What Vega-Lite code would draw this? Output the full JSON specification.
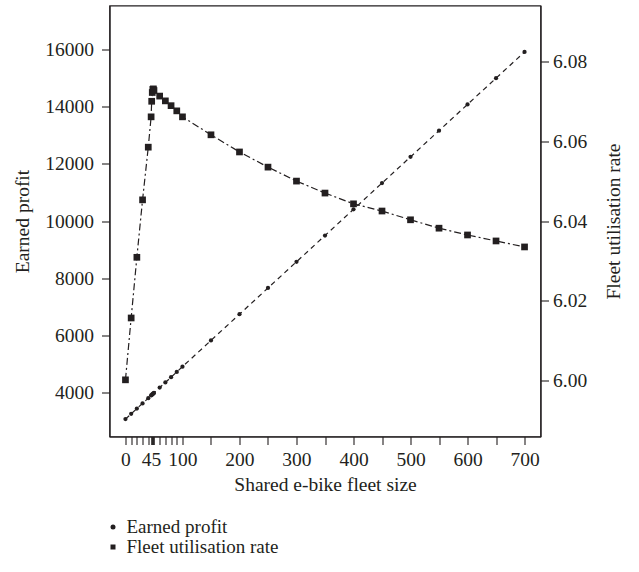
{
  "$schema": "https://vega.github.io/schema/vega-lite/v6.json",
  "width": 431,
  "height": 431,
  "autosize": {"type": "none"},
  "padding": {"left": 109.5, "top": 5.5, "right": 98.5, "bottom": 135.5},
  "background": "white",
  "config": {
    "font": "Liberation Serif",
    "view": {"stroke": "#231f20", "strokeWidth": 1.2},
    "axis": {
      "labelFont": "Liberation Serif",
      "titleFont": "Liberation Serif",
      "labelFontSize": 19.5,
      "titleFontSize": 19.5,
      "titleFontWeight": "normal",
      "labelColor": "#231f20",
      "titleColor": "#231f20",
      "domainColor": "#231f20",
      "tickColor": "#231f20",
      "domainWidth": 1.2,
      "tickWidth": 1.1,
      "tickSize": 8,
      "labelPadding": 4,
      "grid": false
    },
    "legend": {
      "labelFont": "Liberation Serif",
      "labelFontSize": 19,
      "labelColor": "#231f20",
      "symbolFillColor": "#231f20",
      "symbolStrokeColor": "#231f20",
      "symbolStrokeWidth": 0,
      "symbolSize": 25,
      "labelOffset": 4,
      "rowPadding": 0,
      "padding": 0
    }
  },
  "datasets": {
    "profit": [
      {"size": 0, "profit": 3050},
      {"size": 10, "profit": 3235},
      {"size": 20, "profit": 3420},
      {"size": 30, "profit": 3600},
      {"size": 40, "profit": 3785},
      {"size": 45, "profit": 3880},
      {"size": 46, "profit": 3895},
      {"size": 47, "profit": 3915},
      {"size": 48, "profit": 3935},
      {"size": 49, "profit": 3950},
      {"size": 50, "profit": 3970},
      {"size": 60, "profit": 4155},
      {"size": 70, "profit": 4335},
      {"size": 80, "profit": 4520},
      {"size": 90, "profit": 4705},
      {"size": 100, "profit": 4890},
      {"size": 150, "profit": 5810},
      {"size": 200, "profit": 6730},
      {"size": 250, "profit": 7650},
      {"size": 300, "profit": 8570},
      {"size": 350, "profit": 9490},
      {"size": 400, "profit": 10410},
      {"size": 450, "profit": 11330},
      {"size": 500, "profit": 12250},
      {"size": 550, "profit": 13170},
      {"size": 600, "profit": 14090},
      {"size": 650, "profit": 15010},
      {"size": 700, "profit": 15930}
    ],
    "util": [
      {"size": 0, "rate": 6.0002},
      {"size": 10, "rate": 6.0157},
      {"size": 20, "rate": 6.0309},
      {"size": 30, "rate": 6.0453},
      {"size": 40, "rate": 6.0585},
      {"size": 45, "rate": 6.0661},
      {"size": 46, "rate": 6.0700},
      {"size": 47, "rate": 6.0722},
      {"size": 48, "rate": 6.0730},
      {"size": 49, "rate": 6.0731},
      {"size": 50, "rate": 6.0727},
      {"size": 60, "rate": 6.0713},
      {"size": 70, "rate": 6.0701},
      {"size": 80, "rate": 6.0689},
      {"size": 90, "rate": 6.0676},
      {"size": 100, "rate": 6.0661},
      {"size": 150, "rate": 6.0616},
      {"size": 200, "rate": 6.0573},
      {"size": 250, "rate": 6.0535},
      {"size": 300, "rate": 6.0500},
      {"size": 350, "rate": 6.0470},
      {"size": 400, "rate": 6.0443},
      {"size": 450, "rate": 6.0425},
      {"size": 500, "rate": 6.0403},
      {"size": 550, "rate": 6.0382},
      {"size": 600, "rate": 6.0365},
      {"size": 650, "rate": 6.0350},
      {"size": 700, "rate": 6.0335}
    ]
  },
  "encoding": {
    "x": {
      "field": "size",
      "type": "quantitative",
      "scale": {"domain": [-28, 728], "nice": false, "zero": false},
      "axis": {
        "title": "Shared e-bike fleet size",
        "values": [0, 10, 20, 30, 40, 45, 46, 47, 48, 49, 50, 60, 70, 80, 90, 100, 150, 200, 250, 300, 350, 400, 450, 500, 550, 600, 650, 700],
        "format": "d",
        "labelExpr": "indexof([0,45,100,200,300,400,500,600,700], datum.value) >= 0 ? datum.label : ''",
        "labelPadding": 6,
        "titlePadding": 6,
        "labelOverlap": false,
        "labelFlush": false
      }
    }
  },
  "layer": [
    {
      "data": {"name": "profit"},
      "encoding": {
        "y": {
          "field": "profit",
          "type": "quantitative",
          "scale": {"domain": [2440, 17560], "nice": false, "zero": false},
          "axis": {
            "title": "Earned profit",
            "values": [4000, 6000, 8000, 10000, 12000, 14000, 16000],
            "format": "d",
            "labelPadding": 8,
            "titlePadding": 12
          }
        }
      },
      "layer": [
        {
          "mark": {"type": "line", "stroke": "#231f20", "strokeWidth": 1.2, "strokeDash": [5, 4]}
        },
        {
          "mark": {"type": "point", "filled": true, "size": 18, "color": "#231f20", "opacity": 1},
          "encoding": {
            "shape": {
              "datum": "Earned profit",
              "type": "nominal",
              "scale": {"domain": ["Earned profit", "Fleet utilisation rate"], "range": ["circle", "square"]},
              "legend": {"title": null, "orient": "none", "legendX": -6, "legendY": 512, "direction": "vertical"}
            }
          }
        }
      ]
    },
    {
      "data": {"name": "util"},
      "encoding": {
        "y": {
          "field": "rate",
          "type": "quantitative",
          "scale": {"domain": [5.986, 6.094], "nice": false, "zero": false},
          "axis": {
            "orient": "right",
            "title": "Fleet utilisation rate",
            "values": [6.00, 6.02, 6.04, 6.06, 6.08],
            "format": ".2f",
            "titleAngle": 270,
            "titleBaseline": "top",
            "titlePadding": 18
          }
        }
      },
      "layer": [
        {
          "mark": {"type": "line", "stroke": "#231f20", "strokeWidth": 1.2, "strokeDash": [7, 3, 2, 3]}
        },
        {
          "mark": {"type": "point", "filled": true, "size": 45, "color": "#231f20", "opacity": 1},
          "encoding": {
            "shape": {"datum": "Fleet utilisation rate", "type": "nominal"}
          }
        }
      ]
    }
  ],
  "resolve": {"scale": {"y": "independent"}}
}
